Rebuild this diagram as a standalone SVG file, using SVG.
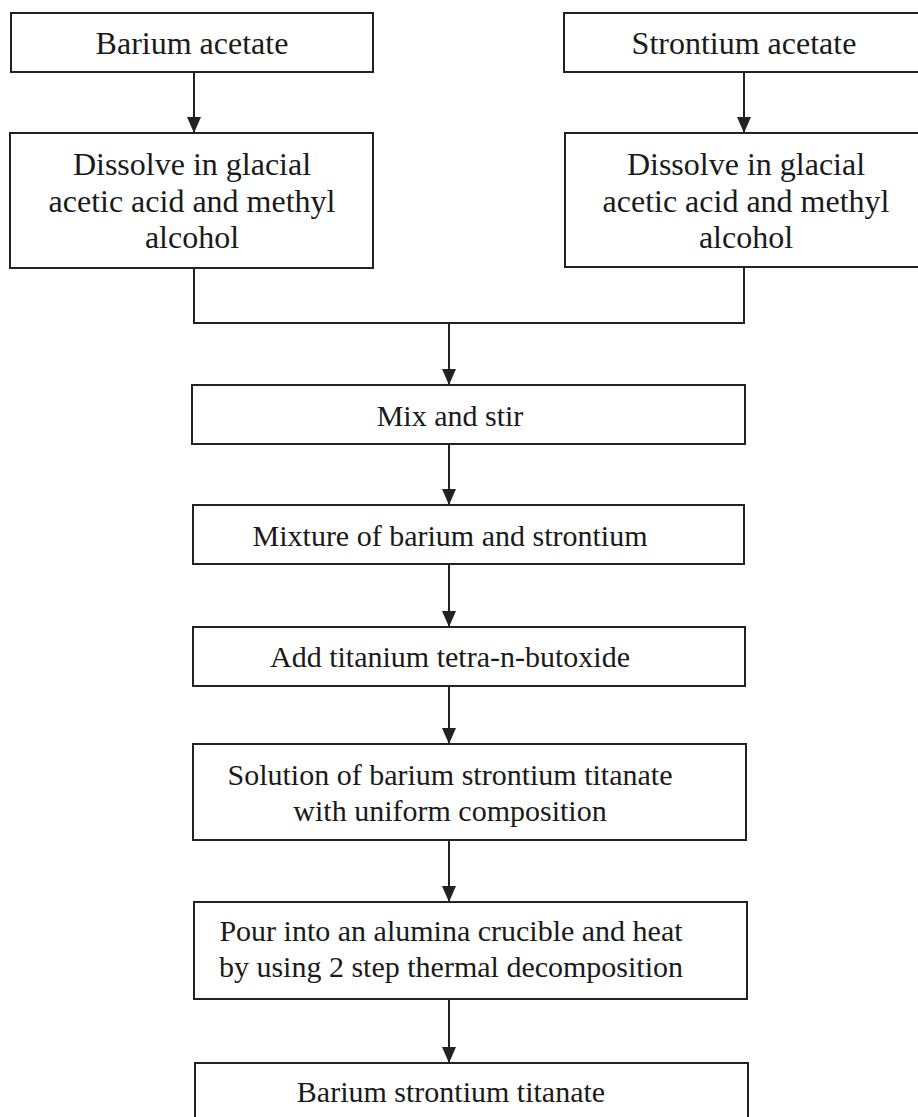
<svg xmlns="http://www.w3.org/2000/svg" width="918" height="1117" viewBox="0 0 918 1117">
<style>
.box{fill:#fff;stroke:#222;stroke-width:2}
.t{font-family:"Liberation Serif","Times New Roman",serif;font-size:30px;fill:#1a1a1a;text-anchor:middle}
.tl{font-size:32px}
.c{fill:none;stroke:#222;stroke-width:2}
</style>
<defs>
<marker id="ah" markerUnits="userSpaceOnUse" markerWidth="16" markerHeight="14" refX="16" refY="7" orient="auto" viewBox="0 0 16 14">
<path d="M0,0 L16,7 L0,14 z" fill="#222"/>
</marker>
</defs>
<rect width="918" height="1117" fill="#fff"/>
<g id="connectors">
<path class="c" d="M194,72 V133" marker-end="url(#ah)"/>
<path class="c" d="M744,72 V133" marker-end="url(#ah)"/>
<path class="c" d="M194,268 V323 H744 V267"/>
<path class="c" d="M449,323 V385" marker-end="url(#ah)"/>
<path class="c" d="M449,444 V505" marker-end="url(#ah)"/>
<path class="c" d="M449,564 V627" marker-end="url(#ah)"/>
<path class="c" d="M449,686 V744" marker-end="url(#ah)"/>
<path class="c" d="M449,840 V902" marker-end="url(#ah)"/>
<path class="c" d="M449,999 V1063" marker-end="url(#ah)"/>
</g>
<g id="barium-acetate">
<rect class="box" x="11" y="13" width="362" height="59"/>
<text class="t tl" x="192" y="54">Barium acetate</text>
</g>
<g id="strontium-acetate">
<rect class="box" x="564" y="13" width="362" height="59"/>
<text class="t tl" x="744" y="54">Strontium acetate</text>
</g>
<g id="dissolve-left">
<rect class="box" x="10" y="133" width="363" height="135"/>
<text class="t tl" x="192" y="175">Dissolve in glacial</text>
<text class="t tl" x="192" y="212">acetic acid and methyl</text>
<text class="t tl" x="192" y="248">alcohol</text>
</g>
<g id="dissolve-right">
<rect class="box" x="565" y="133" width="362" height="134"/>
<text class="t tl" x="746" y="175">Dissolve in glacial</text>
<text class="t tl" x="746" y="212">acetic acid and methyl</text>
<text class="t tl" x="746" y="248">alcohol</text>
</g>
<g id="mix">
<rect class="box" x="192" y="385" width="553" height="59"/>
<text class="t" x="450" y="426">Mix and stir</text>
</g>
<g id="mixture">
<rect class="box" x="193" y="505" width="551" height="59"/>
<text class="t" x="450" y="546">Mixture of barium and strontium</text>
</g>
<g id="add">
<rect class="box" x="193" y="627" width="552" height="59"/>
<text class="t" x="450" y="667">Add titanium tetra-n-butoxide</text>
</g>
<g id="solution">
<rect class="box" x="193" y="744" width="553" height="96"/>
<text class="t" x="450" y="785">Solution of barium strontium titanate</text>
<text class="t" x="450" y="821">with uniform composition</text>
</g>
<g id="pour">
<rect class="box" x="194" y="902" width="553" height="97"/>
<text class="t" x="451" y="941">Pour into an alumina crucible and heat</text>
<text class="t" x="451" y="977">by using 2 step thermal decomposition</text>
</g>
<g id="final">
<rect class="box" x="195" y="1063" width="553" height="70"/>
<text class="t" x="451" y="1102">Barium strontium titanate</text>
</g>
</svg>
